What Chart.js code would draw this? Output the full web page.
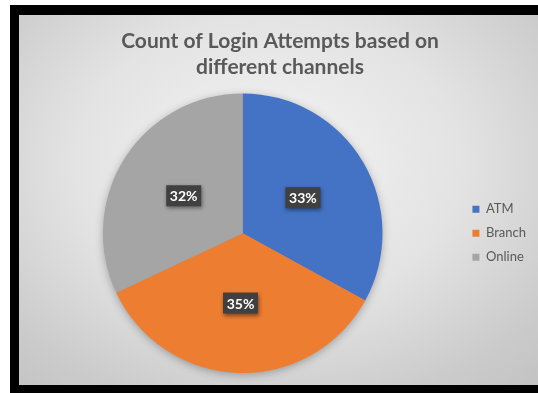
<!DOCTYPE html>
<html>
<head>
<meta charset="utf-8">
<script src="https://cdn.jsdelivr.net/npm/chart.js@4"></script>
<style>
  html, body { margin: 0; padding: 0; background: #fff; }
  #frame { position: absolute; left: 10px; top: 5px; width: 528px; height: 388px; background: #000; }
  #inner {
    position: absolute; left: 19px; top: 15px; width: 519px; height: 370px;
    background: radial-gradient(ellipse 75% 80% at 48% 40%, #f4f4f4 0%, #e3e3e3 50%, #cbcbcb 85%, #c4c4c4 100%);
  }
</style>
</head>
<body>
<div id="frame"></div>
<div id="inner"><canvas id="pie"></canvas></div>
<script>
const channels = ['ATM', 'Branch', 'Online'];
const shares = [33, 35, 32];
const colors = ['#4472c4', '#ed7d31', '#a5a5a5'];
const titleLines = ['Count of Login Attempts based on', 'different channels'];

const txt = '#595959';

// soft drop shadow behind the whole pie
const pieShadow = {
    id: 'pieShadow',
    beforeDatasetsDraw(chart) {
        const a = chart.getDatasetMeta(0).data[0];
        if (!a) return;
        const ctx = chart.ctx;
        ctx.save();
        ctx.shadowColor = 'rgba(0,0,0,0.35)';
        ctx.shadowBlur = 10;
        ctx.shadowOffsetY = 2;
        ctx.fillStyle = '#999';
        ctx.beginPath();
        ctx.arc(a.x, a.y, a.outerRadius - 1, 0, Math.PI * 2);
        ctx.fill();
        ctx.restore();
    }
};

// dark boxed percentage labels
const boxLabels = {
    id: 'boxLabels',
    afterDatasetsDraw(chart) {
        const ctx = chart.ctx;
        const meta = chart.getDatasetMeta(0);
        const total = shares.reduce((s, v) => s + v, 0);
        ctx.save();
        ctx.font = 'bold 14px Lato';
        ctx.textAlign = 'center';
        ctx.textBaseline = 'middle';
        meta.data.forEach((arc, i) => {
            const mid = (arc.startAngle + arc.endAngle) / 2;
            const r = arc.outerRadius * 0.5;
            const x = arc.x + Math.cos(mid) * r;
            const y = arc.y + Math.sin(mid) * r;
            const label = Math.round(shares[i] / total * 100) + '%';
            const w = 35, h = 21;
            ctx.shadowColor = 'rgba(0,0,0,0.45)';
            ctx.shadowBlur = 4;
            ctx.shadowOffsetX = 1;
            ctx.shadowOffsetY = 2;
            ctx.fillStyle = '#404040';
            ctx.fillRect(x - w / 2, y - h / 2, w, h);
            ctx.shadowColor = 'transparent';
            ctx.fillStyle = '#fff';
            ctx.fillText(label, x, y + 1);
        });
        ctx.restore();
    }
};

new Chart(document.getElementById('pie'), {
    type: 'pie',
    data: {
        labels: channels,
        datasets: [{ data: shares, backgroundColor: colors, borderWidth: 0, hoverOffset: 0 }]
    },
    options: {
        responsive: true,
        maintainAspectRatio: false,
        animation: false,
        layout: { padding: { left: 5, right: 2, bottom: 12 } },
        plugins: {
            title: {
                display: true,
                text: titleLines,
                color: txt,
                font: { family: 'Lato', size: 21, weight: 'bold', lineHeight: 1.2 },
                padding: { top: 14, bottom: 14 }
            },
            legend: {
                position: 'right',
                fullSize: false,
                labels: {
                    color: txt,
                    font: { family: 'Lato', size: 13 },
                    boxWidth: 7,
                    boxHeight: 7,
                    padding: 11
                }
            },
            tooltip: { enabled: false }
        }
    },
    plugins: [pieShadow, boxLabels]
});
</script>
</body>
</html>
